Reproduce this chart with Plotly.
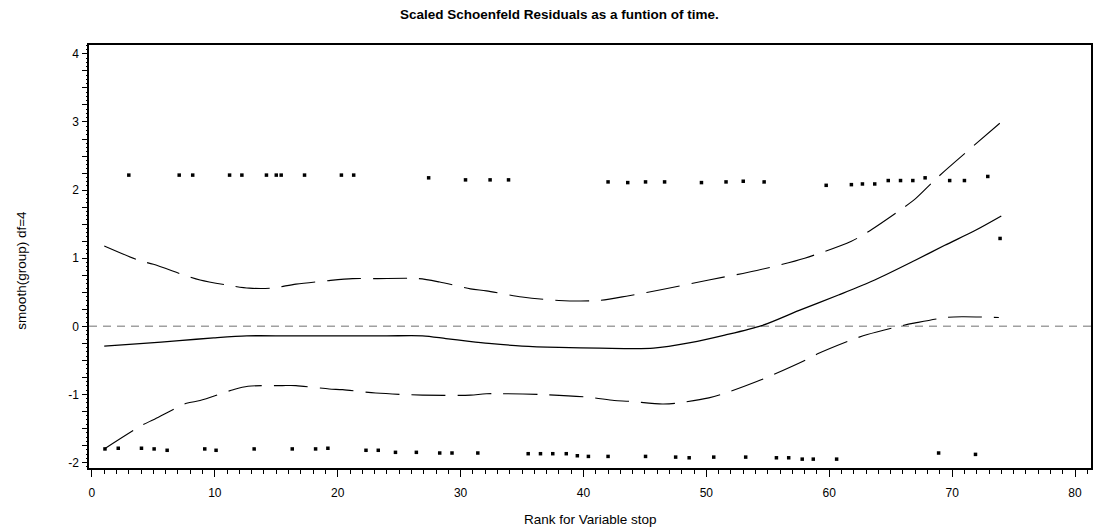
import plotly.graph_objects as go

# ---- data ----
pt_rank = [3.0, 7.1, 8.2, 11.2, 12.2, 14.2, 15.0, 15.4, 17.3, 20.3, 21.3, 27.4, 30.4, 32.4, 33.9,
           42.0, 43.6, 45.05, 46.6, 49.6, 51.6, 53.0, 54.7, 59.75, 61.8, 62.7, 63.7, 64.8, 65.8,
           66.8, 67.8, 69.8, 71.0, 72.9, 73.9,
           1.06, 2.14, 4.03, 5.06, 6.12, 9.18, 10.1, 13.2, 16.3, 18.2, 19.2, 22.3, 23.3, 24.7,
           26.4, 28.3, 29.3, 31.4, 35.5, 36.5, 37.5, 38.6, 39.5, 40.4, 42.0, 45.05, 47.5, 48.6,
           50.6, 53.2, 55.7, 56.7, 57.8, 58.7, 60.6, 68.9, 71.9]
pt_resid = [2.22, 2.22, 2.22, 2.22, 2.22, 2.22, 2.22, 2.22, 2.22, 2.22, 2.22, 2.18, 2.15, 2.15, 2.15,
            2.12, 2.11, 2.12, 2.12, 2.11, 2.12, 2.13, 2.12, 2.07, 2.08, 2.09, 2.09, 2.14, 2.14,
            2.14, 2.18, 2.14, 2.14, 2.20, 1.29,
            -1.80, -1.79, -1.79, -1.80, -1.82, -1.80, -1.82, -1.80, -1.80, -1.80, -1.79, -1.82, -1.82, -1.85,
            -1.85, -1.86, -1.86, -1.86, -1.87, -1.87, -1.87, -1.87, -1.90, -1.91, -1.91, -1.91, -1.92, -1.93,
            -1.92, -1.92, -1.93, -1.93, -1.95, -1.95, -1.95, -1.86, -1.88]

fit_rank = [1.0, 4.2, 7.1, 9.9, 12.6, 16, 20, 24, 26.9, 28.8, 30.7, 32.3, 35, 38, 41.3, 45.7,
            48.7, 51.5, 54.5, 57.5, 60.75, 63.7, 67.0, 69.4, 71.9, 74.0]
fit_smooth = [-0.29, -0.25, -0.21, -0.17, -0.14, -0.14, -0.14, -0.14, -0.14, -0.18, -0.22, -0.25,
              -0.29, -0.31, -0.32, -0.32, -0.24, -0.13, 0.01, 0.23, 0.46, 0.68, 0.97, 1.19, 1.41, 1.62]

up_rank = [1.0, 3.8, 5.0, 7.7, 8.8, 11.5, 12.8, 14.6, 16.6, 19.2, 21.2, 23.1, 26.6, 28.3, 30.8,
           32.1, 35, 38, 41.3, 43.7, 46.4, 50.2, 54.1, 58.0, 61.8, 63.1, 65.8, 67.0, 68.6, 69.7, 74.0]
up_band = [1.18, 0.97, 0.91, 0.74, 0.68, 0.59, 0.56, 0.56, 0.62, 0.67, 0.70, 0.70, 0.70, 0.65, 0.55,
           0.52, 0.43, 0.38, 0.38, 0.45, 0.54, 0.68, 0.82, 1.00, 1.25, 1.38, 1.71, 1.87, 2.15, 2.33, 3.0]

lo_rank = [1.0, 3.9, 5.0, 7.7, 8.8, 11.5, 12.7, 15.5, 16.6, 19.3, 20.4, 23.1, 26.9, 30.8, 32.1,
           36.4, 40.4, 42.5, 43.7, 46.4, 47.5, 50.2, 51.4, 54.1, 55.3, 58.0, 59.1, 61.8, 63.1,
           65.8, 67.0, 69.5, 70.8, 73.8]
lo_band = [-1.80, -1.47, -1.37, -1.13, -1.09, -0.93, -0.88, -0.87, -0.87, -0.92, -0.93, -0.98, -1.01,
           -1.01, -0.99, -1.00, -1.04, -1.09, -1.10, -1.14, -1.13, -1.05, -0.99, -0.81, -0.72, -0.50,
           -0.40, -0.20, -0.12, 0.005, 0.05, 0.13, 0.14, 0.13]

x_ticks = [0, 10, 20, 30, 40, 50, 60, 70, 80]
y_ticks = [-2, -1, 0, 1, 2, 3, 4]

title_text = "Scaled Schoenfeld Residuals as a funtion of time."
x_title = "Rank for Variable stop"
y_title = "smooth(group) df=4"

X_RANGE = [-0.24, 81.3]
Y_RANGE = [-2.08, 4.13]
FONT = "Liberation Sans, Arial, sans-serif"

fig = go.Figure()
fig.add_trace(go.Scatter(x=pt_rank, y=pt_resid, mode="markers",
                         marker=dict(symbol="square", size=3.5, color="black"),
                         showlegend=False, hoverinfo="x+y"))
fig.add_trace(go.Scatter(x=up_rank, y=up_band, mode="lines",
                         line=dict(color="black", width=1.1, dash="34px,12px", shape="spline", smoothing=0.8),
                         showlegend=False))
fig.add_trace(go.Scatter(x=lo_rank, y=lo_band, mode="lines",
                         line=dict(color="black", width=1.1, dash="34px,12px", shape="spline", smoothing=0.8),
                         showlegend=False))
fig.add_trace(go.Scatter(x=fit_rank, y=fit_smooth, mode="lines",
                         line=dict(color="black", width=1.3, shape="spline", smoothing=0.8),
                         showlegend=False))
# empty trace so the secondary (dot-tick) axis is drawn
fig.add_trace(go.Scatter(x=[None], y=[None], yaxis="y2", showlegend=False, hoverinfo="skip"))

fig.add_shape(type="line", xref="paper", x0=0, x1=1, yref="y", y0=0, y1=0,
              line=dict(color="#a0a0a0", width=1.6, dash="8px,6px"), layer="below")

fig.update_layout(
    width=1098, height=530,
    margin=dict(l=89, r=5, t=45, b=62, pad=0),
    paper_bgcolor="white", plot_bgcolor="white",
    font=dict(family=FONT, size=12, color="black"),
    xaxis=dict(range=X_RANGE, tickvals=x_ticks, ticktext=[str(v) for v in x_ticks],
               ticks="outside", ticklen=7, tickwidth=1.3, tickcolor="black",
               minor=dict(dtick=1, tick0=0, ticks="outside", ticklen=4, tickwidth=1.2, tickcolor="black"),
               showline=True, linecolor="black", linewidth=1.5, mirror=True,
               showgrid=False, zeroline=False, ticklabelstandoff=6,
               tickfont=dict(size=12)),
    yaxis=dict(range=Y_RANGE, tickvals=y_ticks, ticktext=[str(v) for v in y_ticks],
               ticks="outside", ticklen=5, tickwidth=1.3, tickcolor="black",
               minor=dict(dtick=0.25, tick0=0, ticks="outside", ticklen=5, tickwidth=1.1, tickcolor="black"),
               showline=True, linecolor="black", linewidth=1.5, mirror=True,
               showgrid=False, zeroline=False, ticklabelstandoff=1,
               tickfont=dict(size=12)),
    yaxis2=dict(range=Y_RANGE, overlaying="y", side="left", tickmode="linear", tick0=0, dtick=0.0625,
                ticks="outside", ticklen=2, tickwidth=1, tickcolor="black",
                showticklabels=False, showgrid=False, zeroline=False, showline=False),
    annotations=[
        dict(text="<b>" + title_text + "</b>", xref="paper", yref="paper", x=0.47, y=(468 - 14) / 423,
             xanchor="center", yanchor="middle", showarrow=False, font=dict(size=13.5)),
        dict(text=x_title, xref="paper", yref="paper", x=0.5, y=(468 - 519) / 423,
             xanchor="center", yanchor="middle", showarrow=False, font=dict(size=13.5)),
        dict(text=y_title, xref="paper", yref="paper", x=(21 - 89) / 1004, y=0.5 - (270 - 256) / 423,
             xanchor="center", yanchor="middle", showarrow=False, textangle=-90, font=dict(size=13.5)),
    ],
)

fig.write_html("out.html")
